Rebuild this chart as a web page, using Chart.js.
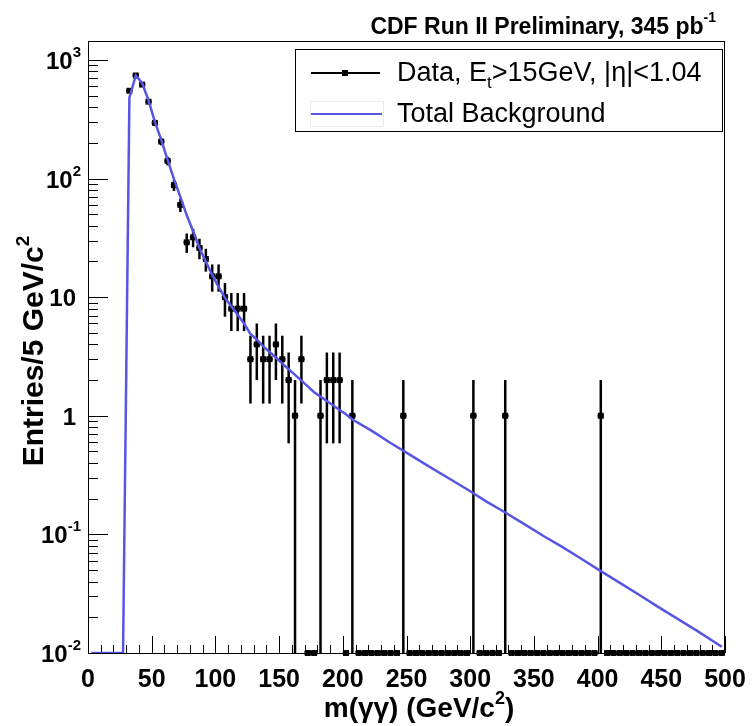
<!DOCTYPE html>
<html><head><meta charset="utf-8">
<script src="https://cdn.jsdelivr.net/npm/chart.js@4/dist/chart.umd.min.js"></script>
<style>html,body{margin:0;padding:0;background:#fff}#wrap{width:753px;height:726px;position:relative}</style>
</head><body><div id="wrap"><canvas id="c"></canvas></div>
<script>
// ---- data ----
const binWidth = 5; // GeV
const binCenters = [2.5,7.5,12.5,17.5,22.5,27.5,32.5,37.5,42.5,47.5,52.5,57.5,62.5,67.5,72.5,77.5,82.5,87.5,92.5,97.5,
102.5,107.5,112.5,117.5,122.5,127.5,132.5,137.5,142.5,147.5,152.5,157.5,162.5,167.5,172.5,177.5,182.5,187.5,192.5,197.5,
202.5,207.5,212.5,217.5,222.5,227.5,232.5,237.5,242.5,247.5,252.5,257.5,262.5,267.5,272.5,277.5,282.5,287.5,292.5,297.5,
302.5,307.5,312.5,317.5,322.5,327.5,332.5,337.5,342.5,347.5,352.5,357.5,362.5,367.5,372.5,377.5,382.5,387.5,392.5,397.5,
402.5,407.5,412.5,417.5,422.5,427.5,432.5,437.5,442.5,447.5,452.5,457.5,462.5,467.5,472.5,477.5,482.5,487.5,492.5,497.5];
const dataCounts = [null,null,null,null,null,null,550,740,620,445,295,205,141,88,60,29,32,26,21,15,
15,10,8,8,8,3,4,3,3,4,3,2,1,3,0,0,1,2,2,2,
0,1,0,0,0,0,0,0,0,1,0,0,0,0,0,0,0,0,0,0,
1,0,0,0,0,1,0,0,0,0,0,0,0,0,0,0,0,0,0,0,
1,0,0,0,0,0,0,0,0,0,0,0,0,0,0,0,0,0,0,0];
const bkgMass = [2.5,7.5,12.5,17.5,22.5,27.5,32.5,37.5,42.5,47.5,52.5,57.5,62.5,67.5,72.5,77.5,82.5,87.5,92.5,97.5,
102.5,107.5,112.5,117.5,122.5,127.5,132.5,137.5,142.5,147.5,152.5,157.5,162.5,167.5,172.5,177.5,182.5,187.5,192.5,197.5,
202.5,207.5,222.5,237.5,252.5,267.5,282.5,297.5,312.5,327.5,342.5,357.5,372.5,387.5,402.5,417.5,432.5,447.5,462.5,477.5,497.5];
const bkgValue = [0,0,0,0,0,0,480,740,640,456,300,212,144,99,70,49,36,26,20,15.4,
12.2,9.9,8.4,7.1,6.0,4.9,4.4,3.85,3.45,3.1,2.75,2.47,2.21,1.98,1.77,1.58,1.45,1.33,1.22,1.12,
1.03,0.93,0.75,0.59,0.47,0.375,0.30,0.24,0.19,0.153,0.122,0.097,0.078,0.062,0.049,0.039,0.031,0.0245,0.0195,0.0155,0.0113];
const xTickLabels = ["0","50","100","150","200","250","300","350","400","450","500"];
const yTickLabels = [["10","-2"],["10","-1"],["1",""],["10",""],["10","2"],["10","3"]];
const yTickValues = [0.01,0.1,1,10,100,1000];
const titleText = ["CDF Run II Preliminary, 345 pb","-1"];
const legendData = ["Data, E","t",">15GeV, |\u03b7|<1.04"];
const legendBkg = "Total Background";

// ---- styling ----
const Y_MIN = 0.01, Y_MAX = 1445;
const FONT = "'Liberation Sans', Arial, Helvetica, sans-serif";
const BLUE = '#5656e4';
const floorOf = v => (v === 0 ? Y_MIN : v); // empty bins are drawn on the axis floor (log scale)

function drawParts(ctx, parts, x, y, align){
  let w = 0;
  parts.forEach(p => { ctx.font = p.font; w += ctx.measureText(p.t).width; });
  let cx = align === 'right' ? x - w : align === 'center' ? x - w/2 : x;
  ctx.textAlign = 'left'; ctx.textBaseline = 'alphabetic';
  parts.forEach(p => { ctx.font = p.font; ctx.fillText(p.t, cx, y + (p.dy||0)); cx += ctx.measureText(p.t).width; });
}

const rootStyle = {
  id: 'rootStyle',
  beforeDraw(chart){
    const ctx = chart.ctx; ctx.save(); ctx.fillStyle = '#fff'; ctx.fillRect(0,0,chart.width,chart.height); ctx.restore();
  },
  beforeDatasetsDraw(chart){
    const ctx = chart.ctx, xs = chart.scales.x, ys = chart.scales.y, a = chart.chartArea;
    ctx.save();
    ctx.strokeStyle = '#000'; ctx.lineWidth = 1;
    ctx.strokeRect(a.left+0.5, a.top+0.5, a.right-a.left-1, a.bottom-a.top);
    for (let v = 0; v <= 500; v += 10){
      const px = Math.round(xs.getPixelForValue(v)) + 0.5;
      const len = v % 50 === 0 ? 17 : 8;
      ctx.beginPath(); ctx.moveTo(px, a.bottom); ctx.lineTo(px, a.bottom - len); ctx.stroke();
    }
    for (let d = -2; d <= 3; d++){
      for (let m = 1; m <= 9; m++){
        const v = m * Math.pow(10, d);
        if (v > Y_MAX) break;
        const py = Math.round(ys.getPixelForValue(v)) + 0.5;
        const len = m === 1 ? 20 : 10;
        ctx.beginPath(); ctx.moveTo(a.left, py); ctx.lineTo(a.left + len, py); ctx.stroke();
      }
    }
    ctx.strokeStyle = '#000';
    binCenters.forEach((m, i) => {
      const v = dataCounts[i];
      if (v === null) return;
      const lo = xs.getPixelForValue(m - binWidth/2), hi = xs.getPixelForValue(m + binWidth/2);
      const px = xs.getPixelForValue(m);
      const py = ys.getPixelForValue(floorOf(v));
      ctx.lineWidth = v > 0 ? 2.5 : 4;
      ctx.beginPath(); ctx.moveTo(lo, py); ctx.lineTo(hi, py); ctx.stroke();
      if (v > 0){
        const e = Math.sqrt(v);
        const yl = (v - e) > Y_MIN ? ys.getPixelForValue(v - e) : ys.getPixelForValue(Y_MIN);
        const yh = ys.getPixelForValue(v + e);
        ctx.lineWidth = 2.5;
        ctx.beginPath(); ctx.moveTo(px, yl); ctx.lineTo(px, yh); ctx.stroke();
      }
    });
    ctx.restore();
  },
  afterDatasetsDraw(chart){
    const ctx = chart.ctx, xs = chart.scales.x, ys = chart.scales.y, a = chart.chartArea;
    ctx.save();
    ctx.fillStyle = '#000';
    const lab = 'bold 25px ' + FONT;
    xTickLabels.forEach(t => {
      const px = xs.getPixelForValue(parseFloat(t));
      drawParts(ctx, [{t, font: lab}], px, 687, 'center');
    });
    const ylab = 'bold 24px ' + FONT, ysup = 'bold 15px ' + FONT;
    yTickValues.forEach((v, i) => {
      const py = ys.getPixelForValue(v);
      const [b, s] = yTickLabels[i];
      const parts = [{t: b, font: ylab}];
      if (s) parts.push({t: s, font: ysup, dy: -12});
      drawParts(ctx, parts, s ? 81 : 76, py + 9, 'right');
    });
    // x title
    const tf = 'bold 28px ' + FONT, ts = 'bold 18px ' + FONT;
    drawParts(ctx, [{t: 'm(\u03b3\u03b3) (GeV/c', font: tf}, {t: '2', font: ts, dy: -13}, {t: ')', font: tf}],
      419, 717, 'center');
    // y title
    ctx.save();
    ctx.translate(43, 351); ctx.rotate(-Math.PI/2);
    drawParts(ctx, [{t: 'Entries/5 GeV/c', font: 'bold 30px ' + FONT}, {t: '2', font: 'bold 19px ' + FONT, dy: -14}], 0, 0, 'center');
    ctx.restore();
    // title
    drawParts(ctx, [{t: titleText[0], font: 'bold 23px ' + FONT}, {t: titleText[1], font: 'bold 14px ' + FONT, dy: -12}], 716, 34, 'right');
    // legend
    const L = {x: 295, y: 49, w: 427, h: 82};
    ctx.fillStyle = '#fff'; ctx.fillRect(L.x, L.y, L.w, L.h);
    ctx.strokeStyle = '#000'; ctx.lineWidth = 1; ctx.strokeRect(L.x + 0.5, L.y + 0.5, L.w, L.h);
    ctx.lineWidth = 2; ctx.strokeStyle = '#000';
    ctx.beginPath(); ctx.moveTo(311, 73); ctx.lineTo(380, 73); ctx.stroke();
    ctx.fillStyle = '#000'; ctx.fillRect(342, 70, 6, 6);
    drawParts(ctx, [{t: legendData[0], font: '27px ' + FONT}, {t: legendData[1], font: '17px ' + FONT, dy: 7},
      {t: legendData[2], font: '27px ' + FONT}], 397, 81, 'left');
    ctx.strokeStyle = '#ececec'; ctx.lineWidth = 1; ctx.strokeRect(310.5, 101.5, 73, 25);
    ctx.strokeStyle = BLUE; ctx.lineWidth = 2;
    ctx.beginPath(); ctx.moveTo(311, 114); ctx.lineTo(382, 114); ctx.stroke();
    ctx.fillStyle = '#000';
    drawParts(ctx, [{t: legendBkg, font: '27px ' + FONT}], 397, 122, 'left');
    ctx.restore();
  }
};

new Chart(document.getElementById('c'), {
  data: {
    datasets: [
      { type: 'line', label: 'Total Background',
        data: bkgMass.map((m, i) => ({x: m, y: floorOf(bkgValue[i])})),
        borderColor: BLUE, borderWidth: 2.5, pointRadius: 0, tension: 0, fill: false },
      { type: 'scatter', label: 'Data',
        data: binCenters.map((m, i) => ({x: m, y: dataCounts[i] === null ? null : floorOf(dataCounts[i])})),
        backgroundColor: '#000', borderColor: '#000', pointStyle: 'rect', pointRadius: 4.2, borderWidth: 0, clip: false }
    ]
  },
  options: {
    responsive: true, maintainAspectRatio: false, animation: false,
    layout: {padding: {left: 88, right: 28, top: 41, bottom: 73}},
    plugins: {legend: {display: false}, tooltip: {enabled: false}},
    scales: {
      x: {type: 'linear', min: 0, max: 500, display: false},
      y: {type: 'logarithmic', min: Y_MIN, max: Y_MAX, display: false}
    }
  },
  plugins: [rootStyle]
});
</script></body></html>
